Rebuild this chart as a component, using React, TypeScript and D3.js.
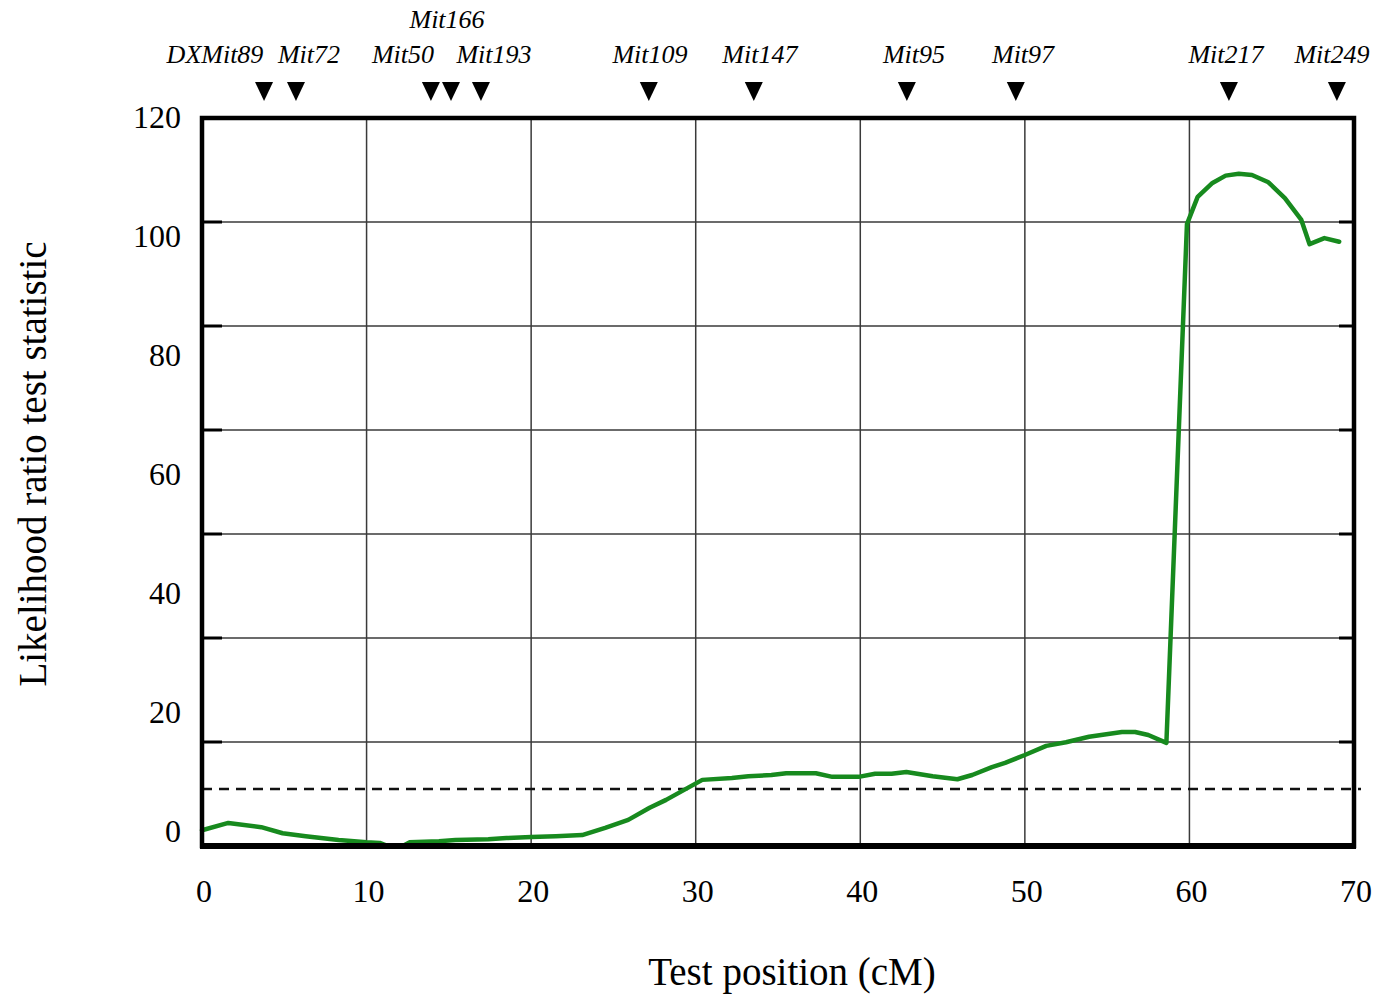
import React, { useEffect, useRef } from "react";
import * as d3 from "d3";

// test positions (cM) and likelihood ratio test statistic
const positions = [0, 1.6, 3.6, 4.9, 6.3, 8.3, 10, 10.8, 11.3, 12.2, 12.6, 14.4, 15.4, 17.4, 18.5, 20, 21.5, 23.1, 24.5, 25.9, 27.2, 28.2, 29.6, 30.4, 32.2, 33.2, 34.6, 35.5, 37.3, 38.3, 39.9, 40.9, 41.9, 42.8, 44.4, 45.9, 46.8, 48, 48.8, 50, 51.3, 52.5, 53.9, 55.9, 56.7, 57.5, 58.6, 59.85, 60.5, 61.4, 62.2, 63, 63.8, 64.8, 65.8, 66.8, 67.3, 68.2, 69.1];
const lrt = [2.6, 3.8, 3.1, 2.1, 1.6, 1.0, 0.6, 0.5, 0, 0, 0.6, 0.8, 1.0, 1.1, 1.3, 1.5, 1.6, 1.8, 3.0, 4.3, 6.3, 7.6, 9.7, 10.9, 11.2, 11.5, 11.7, 12.0, 12.0, 11.4, 11.4, 11.9, 11.9, 12.2, 11.5, 11.0, 11.7, 13.0, 13.7, 15.0, 16.5, 17.1, 18.0, 18.8, 18.8, 18.3, 17.0, 102.5, 107, 109.3, 110.5, 110.8, 110.6, 109.4, 106.8, 103.2, 99.2, 100.2, 99.6];

const threshold = 9.4;

// markers along the top
const markerNames = ["DXMit89", "Mit72", "Mit50", "Mit166", "Mit193", "Mit109", "Mit147", "Mit95", "Mit97", "Mit217", "Mit249"];
const markerPos = [3.77, 5.71, 13.91, 15.13, 16.95, 27.15, 33.53, 42.83, 49.45, 62.4, 68.96];
const labelPos = [0.79, 6.5, 12.21, 14.89, 17.74, 27.22, 33.9, 43.26, 49.89, 62.22, 68.66];
const labelRow = [0, 0, 0, 1, 0, 0, 0, 0, 0, 0, 0];

const xTicks = [0, 10, 20, 30, 40, 50, 60, 70];
const yTicks = [0, 20, 40, 60, 80, 100, 120];
const gridRows = 7;

const W = 1381, H = 1001;

export default function App() {
  const ref = useRef<SVGSVGElement>(null);

  useEffect(() => {
    const svg = d3.select(ref.current);
    svg.selectAll("*").remove();

    const x = d3.scaleLinear().domain([0, 70]).range([202, 1354]);
    const y = d3.scaleLinear().domain([0, 120]).range([846, 118]);
    // the printed tick labels sit on their own spacing
    const yLab = d3.scaleLinear().domain([0, 120]).range([831, 117]);

    const g = svg.append("g");
    const left = x(0), right = x(70), top = y(120), bottom = y(0);

    // vertical grid
    g.selectAll(".vgrid").data(xTicks.slice(1, -1)).join("line")
      .attr("x1", d => x(d)).attr("x2", d => x(d))
      .attr("y1", top).attr("y2", bottom)
      .attr("stroke", "#3a3a3a").attr("stroke-width", 1.5);

    // horizontal grid + short ticks
    const rows = d3.range(1, gridRows).map(i => (120 * i) / gridRows);
    g.selectAll(".hgrid").data(rows).join("line")
      .attr("x1", left).attr("x2", right)
      .attr("y1", d => y(d)).attr("y2", d => y(d))
      .attr("stroke", "#3a3a3a").attr("stroke-width", 1.5);
    g.selectAll(".ltick").data(rows).join("line")
      .attr("x1", left).attr("x2", left + 20)
      .attr("y1", d => y(d)).attr("y2", d => y(d))
      .attr("stroke", "#000").attr("stroke-width", 3);
    g.selectAll(".rtick").data(rows).join("line")
      .attr("x1", right - 15).attr("x2", right)
      .attr("y1", d => y(d)).attr("y2", d => y(d))
      .attr("stroke", "#000").attr("stroke-width", 3);

    // threshold
    g.append("line")
      .attr("x1", left).attr("x2", right + 7)
      .attr("y1", y(threshold)).attr("y2", y(threshold))
      .attr("stroke", "#111").attr("stroke-width", 2.5)
      .attr("stroke-dasharray", "10 7");

    // LRT curve
    const line = d3.line<number>()
      .x((d, i) => x(positions[i]))
      .y(d => y(d));
    g.append("path").datum(lrt)
      .attr("d", line)
      .attr("fill", "none")
      .attr("stroke", "#178a1e")
      .attr("stroke-width", 4.5)
      .attr("stroke-linejoin", "round")
      .attr("stroke-linecap", "round");

    // frame
    g.append("rect")
      .attr("x", left).attr("y", top)
      .attr("width", right - left).attr("height", bottom - top)
      .attr("fill", "none").attr("stroke", "#000").attr("stroke-width", 4.5);
    g.append("line")
      .attr("x1", left - 2).attr("x2", right + 2)
      .attr("y1", bottom).attr("y2", bottom)
      .attr("stroke", "#000").attr("stroke-width", 6);

    // x tick labels
    g.selectAll(".xlab").data(xTicks).join("text")
      .attr("x", d => x(d) + 2).attr("y", 902)
      .attr("text-anchor", "middle")
      .attr("font-family", "Liberation Serif")
      .attr("font-size", 32)
      .text(d => d);

    // y tick labels
    g.selectAll(".ylab").data(yTicks).join("text")
      .attr("x", 181).attr("y", d => yLab(d))
      .attr("text-anchor", "end")
      .attr("dominant-baseline", "central")
      .attr("font-family", "Liberation Serif")
      .attr("font-size", 32)
      .text(d => d);

    // axis titles
    g.append("text")
      .attr("x", 792).attr("y", 985)
      .attr("text-anchor", "middle")
      .attr("font-family", "Liberation Serif")
      .attr("font-size", 39)
      .text("Test position (cM)");
    g.append("text")
      .attr("transform", "translate(46,464) rotate(-90)")
      .attr("text-anchor", "middle")
      .attr("font-family", "Liberation Serif")
      .attr("font-size", 39)
      .text("Likelihood ratio test statistic");

    // marker triangles
    g.selectAll(".tri").data(markerPos).join("path")
      .attr("d", d => `M${x(d) - 9},82 L${x(d) + 9},82 L${x(d)},101 Z`)
      .attr("fill", "#000");

    // marker labels
    g.selectAll(".mlab").data(markerNames).join("text")
      .attr("x", (d, i) => x(labelPos[i]))
      .attr("y", (d, i) => (labelRow[i] === 1 ? 28 : 63))
      .attr("text-anchor", "middle")
      .attr("font-family", "Liberation Serif")
      .attr("font-style", "italic")
      .attr("font-size", 26)
      .text(d => d);
  }, []);

  return (
    <svg ref={ref} width={W} height={H}
      style={{ position: "absolute", left: 0, top: 0, background: "#fff" }} />
  );
}
